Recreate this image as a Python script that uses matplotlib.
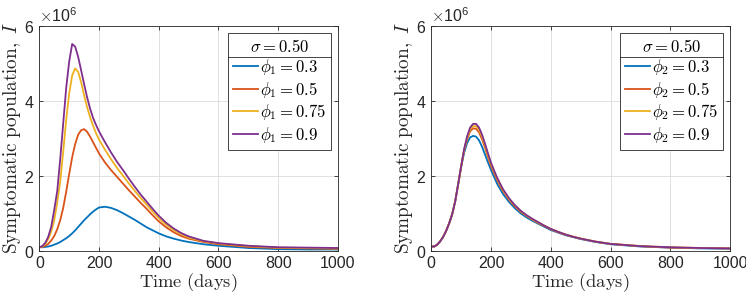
import matplotlib
matplotlib.use('Agg')
import matplotlib.pyplot as plt
from matplotlib.lines import Line2D
from matplotlib.ticker import ScalarFormatter

# 1. data (values in units of 1e6)
t = [0, 10, 20, 30, 40, 50, 60, 70, 80, 90, 100, 110, 120, 130, 140, 150, 160, 170, 180, 190,
     200, 220, 240, 260, 280, 300, 320, 340, 360, 380, 400, 425, 450, 475, 500, 550, 600, 700, 800, 900, 1000]

# left panel: phi_1
phi1_labels = ['0.3', '0.5', '0.75', '0.9']
I_phi1_03 = [0.10, 0.10, 0.11, 0.12, 0.14, 0.17, 0.20, 0.24, 0.29, 0.34, 0.40, 0.47, 0.55, 0.64, 0.73, 0.82, 0.90, 0.98, 1.05, 1.11,
             1.16, 1.18, 1.15, 1.09, 1.01, 0.92, 0.83, 0.73, 0.63, 0.55, 0.47, 0.39, 0.33, 0.28, 0.24, 0.18, 0.14, 0.08, 0.05, 0.04, 0.04]
I_phi1_05 = [0.10, 0.11, 0.14, 0.19, 0.28, 0.40, 0.58, 0.82, 1.15, 1.58, 2.05, 2.50, 2.85, 3.10, 3.22, 3.25, 3.18, 3.05, 2.90, 2.75,
             2.60, 2.36, 2.16, 1.98, 1.80, 1.62, 1.45, 1.28, 1.12, 0.95, 0.79, 0.63, 0.50, 0.40, 0.33, 0.24, 0.18, 0.11, 0.08, 0.07, 0.06]
I_phi1_075 = [0.10, 0.12, 0.19, 0.32, 0.52, 0.82, 1.30, 1.85, 2.65, 3.50, 4.20, 4.68, 4.87, 4.78, 4.50, 4.15, 3.84, 3.57, 3.34, 3.14,
              2.97, 2.70, 2.45, 2.22, 2.01, 1.80, 1.60, 1.41, 1.23, 1.05, 0.88, 0.70, 0.56, 0.45, 0.36, 0.26, 0.20, 0.13, 0.09, 0.08, 0.07]
I_phi1_09 = [0.10, 0.13, 0.22, 0.38, 0.65, 1.10, 1.60, 2.45, 3.40, 4.35, 5.05, 5.52, 5.45, 5.18, 4.82, 4.45, 4.10, 3.80, 3.55, 3.36,
             3.19, 2.90, 2.63, 2.38, 2.16, 1.93, 1.71, 1.50, 1.31, 1.12, 0.94, 0.75, 0.60, 0.48, 0.39, 0.27, 0.21, 0.14, 0.10, 0.09, 0.08]

# right panel: phi_2
phi2_labels = ['0.3', '0.5', '0.75', '0.9']
I_phi2_03 = [0.12, 0.12, 0.17, 0.26, 0.38, 0.54, 0.74, 0.98, 1.32, 1.78, 2.24, 2.62, 2.88, 3.03, 3.07, 3.05, 2.95, 2.78, 2.57, 2.36,
             2.16, 1.80, 1.52, 1.31, 1.14, 1.00, 0.89, 0.80, 0.72, 0.64, 0.56, 0.49, 0.42, 0.37, 0.32, 0.24, 0.18, 0.12, 0.09, 0.07, 0.06]
I_phi2_05 = [0.12, 0.12, 0.17, 0.26, 0.38, 0.54, 0.74, 0.98, 1.32, 1.78, 2.25, 2.68, 2.98, 3.19, 3.27, 3.26, 3.16, 2.98, 2.75, 2.50,
             2.27, 1.90, 1.60, 1.37, 1.19, 1.04, 0.93, 0.83, 0.74, 0.66, 0.58, 0.50, 0.43, 0.38, 0.33, 0.25, 0.19, 0.13, 0.09, 0.08, 0.07]
I_phi2_075 = [0.12, 0.12, 0.17, 0.26, 0.38, 0.54, 0.74, 0.98, 1.32, 1.78, 2.26, 2.70, 3.02, 3.24, 3.33, 3.33, 3.23, 3.05, 2.81, 2.55,
              2.32, 1.94, 1.63, 1.39, 1.21, 1.06, 0.94, 0.84, 0.75, 0.67, 0.59, 0.51, 0.44, 0.38, 0.33, 0.25, 0.19, 0.13, 0.10, 0.08, 0.07]
I_phi2_09 = [0.12, 0.12, 0.17, 0.26, 0.38, 0.54, 0.74, 0.98, 1.32, 1.78, 2.26, 2.72, 3.06, 3.29, 3.39, 3.39, 3.29, 3.10, 2.86, 2.60,
             2.35, 1.96, 1.65, 1.41, 1.22, 1.07, 0.95, 0.85, 0.76, 0.67, 0.59, 0.51, 0.44, 0.38, 0.33, 0.25, 0.19, 0.13, 0.10, 0.08, 0.07]

colors = ['#0072BD', '#D95319', '#EDB120', '#7E2F8E']

# 2. style
plt.rcParams['font.family'] = ['Liberation Sans', 'DejaVu Sans']
plt.rcParams['mathtext.fontset'] = 'cm'
ink = '#262626'

fig = plt.figure(figsize=(7.46, 3.0), dpi=100)
ax1 = fig.add_axes([0.0527, 0.1633, 0.4003, 0.75])
ax2 = fig.add_axes([0.5781, 0.1633, 0.4005, 0.75])

panels = [
    (ax1, [I_phi1_03, I_phi1_05, I_phi1_075, I_phi1_09], phi1_labels, '1'),
    (ax2, [I_phi2_03, I_phi2_05, I_phi2_075, I_phi2_09], phi2_labels, '2'),
]

for ax, series, labels, idx in panels:
    for y, lab, c in zip(series, labels, colors):
        ax.plot(t, [v * 1e6 for v in y], color=c, lw=1.3,
                label=r'$\phi_%s = %s$' % (idx, lab))
    ax.set_xlim(0, 1000)
    ax.set_ylim(0, 6e6)
    ax.set_xticks([0, 200, 400, 600, 800, 1000])
    ax.set_yticks([0, 2e6, 4e6, 6e6])
    fmt = ScalarFormatter(useMathText=True)
    fmt.set_powerlimits((0, 0))
    ax.yaxis.set_major_formatter(fmt)
    ax.yaxis.get_offset_text().set_fontsize(11.5)
    ax.yaxis.get_offset_text().set_color(ink)
    ax.grid(True, color='#dcdcdc', lw=0.6)
    ax.tick_params(direction='in', top=True, right=True, labelsize=11.5,
                   colors=ink, length=3, width=0.6)
    for s in ax.spines.values():
        s.set_color(ink)
        s.set_linewidth(0.6)
    ax.set_xlabel(r'$\mathrm{Time\ (days)}$', fontsize=13.3, color=ink, labelpad=0)
    ax.set_ylabel(r'$\mathrm{Symptomatic\ population,}\ I$', fontsize=13.8, color=ink, labelpad=1)
    leg = ax.legend(loc='upper right', title=r'$\sigma = 0.50$', fontsize=12,
                    title_fontsize=12, fancybox=False, framealpha=1,
                    edgecolor=ink, handlelength=1.5, handletextpad=0.1,
                    borderpad=0.3, labelspacing=0.15, borderaxespad=0.4)
    leg.get_frame().set_linewidth(0.6)

# separator line under legend title, like the MATLAB legend
fig.canvas.draw()
r = fig.canvas.get_renderer()
for ax in (ax1, ax2):
    leg = ax.get_legend()
    fb = leg.get_frame().get_window_extent(r)
    tb = leg.get_title().get_window_extent(r)
    ysep = tb.y0 - 2
    x0, y0 = fig.transFigure.inverted().transform((fb.x0, ysep))
    x1, _ = fig.transFigure.inverted().transform((fb.x1, ysep))
    fig.add_artist(Line2D([x0, x1], [y0, y0], color=ink, lw=0.6,
                          transform=fig.transFigure))

fig.savefig('out.png', dpi=100)
